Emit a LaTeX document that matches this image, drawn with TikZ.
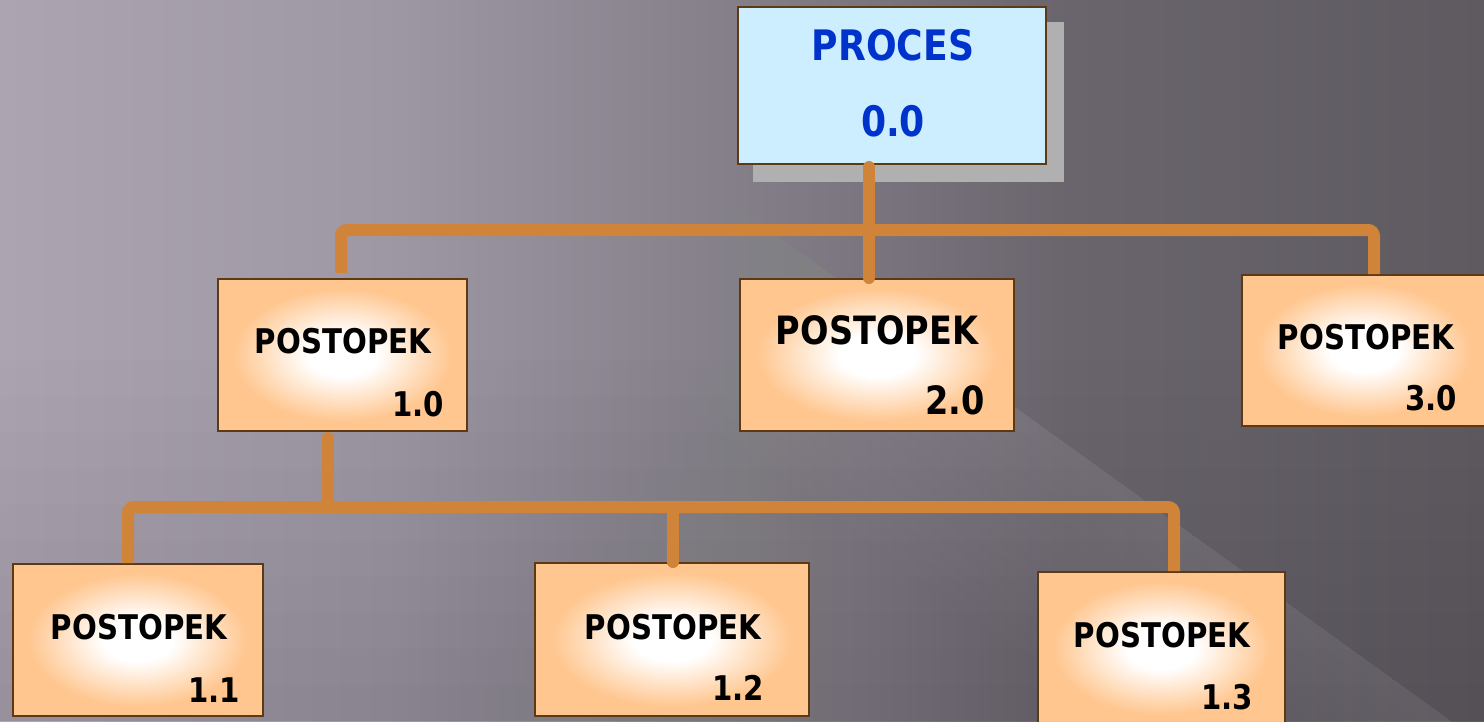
\documentclass[tikz,border=0pt]{standalone}
\usepackage{fontspec}
\newfontfamily\vf{DejaVu Sans}[FakeStretch=0.86]
\definecolor{bgA}{HTML}{ACA5B1}
\definecolor{bgB}{HTML}{9E98A4}
\definecolor{bgC}{HTML}{837E88}
\definecolor{bgE}{HTML}{6A656D}
\definecolor{bgD}{HTML}{5E5A60}
\definecolor{peach}{HTML}{FFC68F}
\definecolor{brd}{HTML}{5E3A14}
\definecolor{link}{HTML}{D0843A}
\definecolor{skyf}{HTML}{CCEEFF}
\definecolor{blu}{HTML}{0033CC}
\definecolor{shad}{HTML}{B0B0B0}
\pgfdeclarehorizontalshading{bgshade}{100bp}{color(0bp)=(bgA); color(25bp)=(bgA); color(38bp)=(bgB); color(50bp)=(bgC); color(61bp)=(bgE); color(75bp)=(bgD); color(100bp)=(bgD)}
\pgfdeclareradialshading{boxsh}{\pgfpoint{0bp}{0bp}}{color(0bp)=(white); color(7bp)=(white); color(22bp)=(peach); color(50bp)=(peach)}
\tikzset{
  pbox/.style={draw=brd, line width=2pt, shading=boxsh, inner sep=0pt},
  topbox/.style={draw=brd, line width=2pt, fill=skyf, inner sep=0pt},
  shbox/.style={fill=shad, draw=none, inner sep=0pt},
  lnk/.style={draw=link, line width=12pt, rounded corners=6pt},
  bigt/.style={font=\vf\bfseries\fontsize{34}{34}\selectfont, inner sep=0pt},
  hugt/.style={font=\vf\bfseries\fontsize{39}{39}\selectfont, inner sep=0pt},
  topt/.style={font=\vf\bfseries\fontsize{42}{42}\selectfont, text=blu, inner sep=0pt}
}
\begin{document}
\begin{tikzpicture}[x=1pt,y=-1pt]
\useasboundingbox (0,0) rectangle (1484,721);
% background
\begin{scope}
\clip (0,0) rectangle (1484,721);
\shade[shading=bgshade] (0,0) rectangle (1484,721);
% slight darkening towards the bottom
\foreach \i in {1,...,10}{
  \fill[black, opacity=0.006] (0,{721-\i*36}) rectangle (1484,721);
}
% light diagonal streaks, sharp upper-right edge, fading to lower-left
\foreach \i in {1,...,12}{
  \fill[white, opacity=0.006] (250,-144) -- (1600,828) -- ++({-0.584*\i*16},{0.811*\i*16}) -- ({250-0.584*\i*16},{-144+0.811*\i*16}) -- cycle;
}
\foreach \i in {1,...,10}{
  \fill[white, opacity=0.006] (-200,290) -- (900,1082) -- ++({-0.584*\i*16},{0.811*\i*16}) -- ({-200-0.584*\i*16},{290+0.811*\i*16}) -- cycle;
}
\end{scope}
% top box
\node[shbox, minimum width=311pt, minimum height=160pt] (sh) at (908.5,102) {};
\node[topbox, minimum width=308pt, minimum height=157pt] (p00) at (892,85.5) {};
\node[topt] (p00a) at (893,45) {PROCES};
\node[topt] (p00b) at (893,121) {0.0};
% level 1 boxes
\node[pbox, minimum width=249pt, minimum height=152pt] (b10) at (342.5,355) {};
\node[pbox, minimum width=274pt, minimum height=152pt] (b20) at (877,355) {};
\node[pbox, minimum width=244pt, minimum height=151pt] (b30) at (1364,350.5) {};
% level 2 boxes
\node[pbox, minimum width=250pt, minimum height=152pt] (b11) at (138,640) {};
\node[pbox, minimum width=274pt, minimum height=153pt] (b12) at (672,639.5) {};
\node[pbox, minimum width=247pt, minimum height=152pt] (b13) at (1161.5,648) {};
% texts
\node[bigt] (t10a) at (343,341) {POSTOPEK};
\node[bigt] (t10b) at (418,404) {1.0};
\node[hugt] (t20a) at (877,330) {POSTOPEK};
\node[hugt] (t20b) at (955,400) {2.0};
\node[bigt] (t30a) at (1366,337) {POSTOPEK};
\node[bigt] (t30b) at (1431,398) {3.0};
\node[bigt] (t11a) at (139,627) {POSTOPEK};
\node[bigt] (t11b) at (214,690) {1.1};
\node[bigt] (t12a) at (673,627) {POSTOPEK};
\node[bigt] (t12b) at (738,688) {1.2};
\node[bigt] (t13a) at (1162,635) {POSTOPEK};
\node[bigt] (t13b) at (1227,697) {1.3};
% connectors
\draw[lnk, line cap=round] (p00.south -| 869,0) ++(0,2) -- (b20.north -| 869,0);
\draw[lnk] (b10.north -| 341,0) ++(0,-5) -- (341,230) -- (1374,230) -- (b30.north -| 1374,0);
\draw[lnk, line cap=round] (b10.south -| 328,0) ++(0,6) -- (328,507);
\draw[lnk] (b11.north -| 128,0) -- (128,507) -- (1174,507) -- (b13.north -| 1174,0);
\draw[lnk, line cap=round] (673,507) -- (b12.north -| 673,0) ++(0,3);
\end{tikzpicture}
\end{document}
